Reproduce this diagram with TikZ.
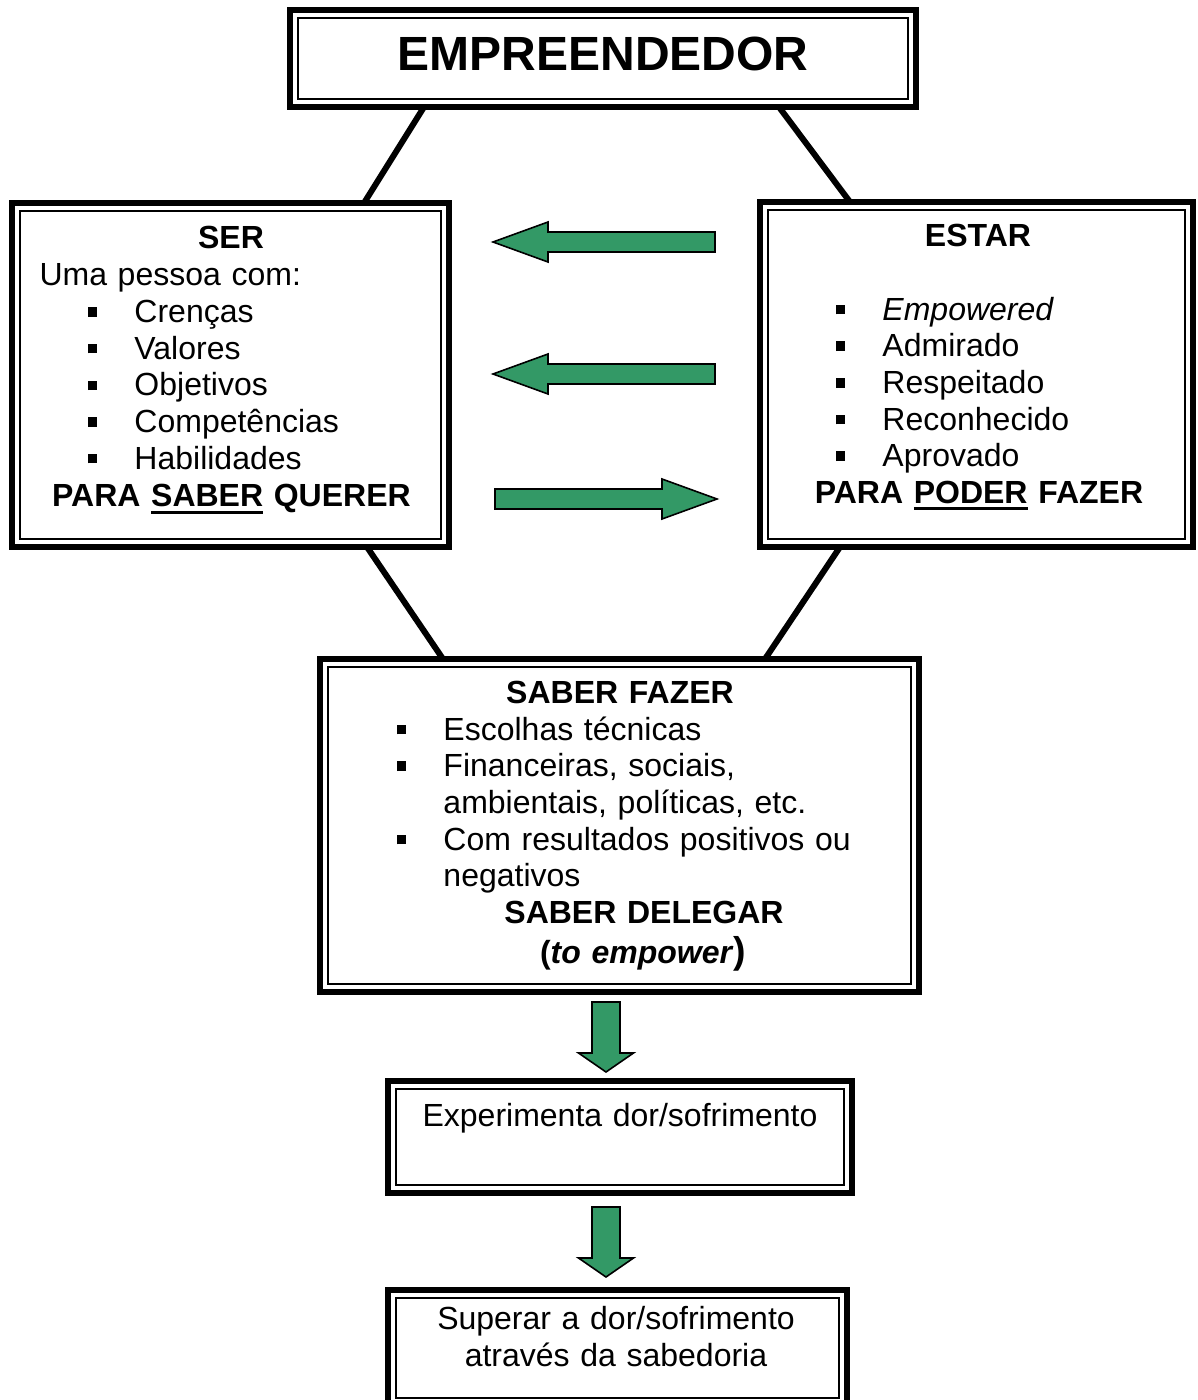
\documentclass[tikz,border=0pt]{standalone}
\usepackage{fontspec}
\setmainfont{Liberation Sans}
\usepackage{tikz}
\usetikzlibrary{positioning,fit}

\definecolor{arrowgreen}{RGB}{51,153,102}
\newcommand{\bul}{\rule[2.1pt]{3.6pt}{3.6pt}}
\newcommand{\itm}{\makebox[17.6pt][l]{\bul}}
\newcommand{\undl}[1]{\setbox0\hbox{#1}\rlap{\rule[-2.6pt]{\wd0}{1.1pt}}\box0\relax}

\tikzset{
	frame/.style={draw, line width=2.5pt, inner sep=0pt, outer sep=0pt},
	inframe/.style={line width=0.75pt},
	conn/.style={line width=2.25pt},
	garrow/.style={fill=arrowgreen, draw=black, line width=0.6pt, line join=miter},
	txt/.style={inner sep=0pt, text width=260pt, font=\fontsize{12pt}{13.75pt}\selectfont},
	head/.style={txt, align=center, anchor=base, font=\fontsize{12pt}{13.75pt}\selectfont\bfseries},
	body/.style={txt, align=center, anchor=base},
	lst/.style={txt, align=left, anchor=base west}
}

\begin{document}
\begin{tikzpicture}[x=0.375pt, y=-0.375pt]
	\useasboundingbox (0,0) rectangle (1198,1400);
	\clip (0,0) rectangle (1198,1400);
	
	% boxes
	\node[frame, fit={(290,10) (916,107)}] (emp) {};
	\node[frame, fit={(12,203) (449,547)}] (ser) {};
	\node[frame, fit={(760,202) (1193,547)}] (estar) {};
	\node[frame, fit={(320,659) (919,992)}] (fazer) {};
	\node[frame, fit={(388,1081) (852,1193)}] (exp) {};
	\node[frame, fit={(388,1290) (847,1406)}] (sup) {};
	% inner thin lines
	\foreach \b in {emp,ser,estar,fazer,exp,sup}
		\draw[inframe] ([shift={(8,8)}]\b.north west) rectangle ([shift={(-8,-8)}]\b.south east);
	
	% connectors
	\draw[conn] ([shift={(134,0)}]emp.south west) -- ([shift={(352,0)}]ser.north west);
	\draw[conn] ([shift={(489,0)}]emp.south west) -- ([shift={(90,0)}]estar.north west);
	\draw[conn] ([shift={(355,0)}]ser.south west) -- ([shift={(123,0)}]fazer.north west);
	\draw[conn] ([shift={(80,0)}]estar.south west) -- ([shift={(445,0)}]fazer.north west);
	
	% top
	\node[head, font=\fontsize{18pt}{20pt}\selectfont\bfseries] (empT) at (603,70) {EMPREENDEDOR};
	
	% ser
	\node[head] (serH) at (231,248) {SER};
	\node[lst] (serL) at (39,285.7) {Uma pessoa com:\\
		\hspace*{18pt}\itm Crenças\\
		\hspace*{18pt}\itm Valores\\
		\hspace*{18pt}\itm Objetivos\\
		\hspace*{18pt}\itm Competências\\
		\hspace*{18pt}\itm Habilidades};
	\node[head] (serF) at (231.5,506.7) {PARA \undl{SABER} QUERER};
	
	% estar
	\node[head] (estH) at (978,246.7) {ESTAR};
	\node[lst] (estL) at (835,320) {\itm\textit{Empowered}\\
		\itm Admirado\\
		\itm Respeitado\\
		\itm Reconhecido\\
		\itm Aprovado};
	\node[head] (estF) at (979,503.3) {PARA \undl{PODER} FAZER};
	
	% saber fazer
	\node[head] (fazH) at (620,703.3) {SABER FAZER};
	\node[lst] (fazL) at (396,740) {\itm Escolhas técnicas\\
		\itm Financeiras, sociais,\\
		\hspace*{17.6pt}ambientais, políticas, etc.\\
		\itm Com resultados positivos ou\\
		\hspace*{17.6pt}negativos};
	\node[head] (fazD) at (644,923.3) {SABER DELEGAR};
	\node[head] (fazE) at (643,963.3) {(\textit{to empower}{\fontsize{14pt}{14pt}\selectfont)}};
	
	% lower boxes
	\node[body] (expT) at (620,1126.7) {Experimenta dor/sofrimento};
	\node[body] (supT) at (616,1329.5) {Superar a dor/sofrimento\\através da sabedoria};
	
	% green arrows
	\coordinate (tipA) at (493,242);
	\coordinate (tipB) at (493,374);
	\coordinate (tipC) at (717,499);
	\coordinate (tipD) at (606,1072);
	\coordinate (tipE) at (606,1277);
	\draw[garrow] (tipA) -- ++(55,-20) -- ++(0,10) -- ++(167,0) -- ++(0,20) -- ++(-167,0) -- ++(0,10) -- cycle;
	\draw[garrow] (tipB) -- ++(55,-20) -- ++(0,10) -- ++(167,0) -- ++(0,20) -- ++(-167,0) -- ++(0,10) -- cycle;
	\draw[garrow] (tipC) -- ++(-55,-20) -- ++(0,10) -- ++(-167,0) -- ++(0,20) -- ++(167,0) -- ++(0,10) -- cycle;
	\draw[garrow] (tipD) -- ++(-27.5,-19) -- ++(13.5,0) -- ++(0,-51) -- ++(28,0) -- ++(0,51) -- ++(13.5,0) -- cycle;
	\draw[garrow] (tipE) -- ++(-27.5,-19) -- ++(13.5,0) -- ++(0,-51) -- ++(28,0) -- ++(0,51) -- ++(13.5,0) -- cycle;
\end{tikzpicture}
\end{document}
